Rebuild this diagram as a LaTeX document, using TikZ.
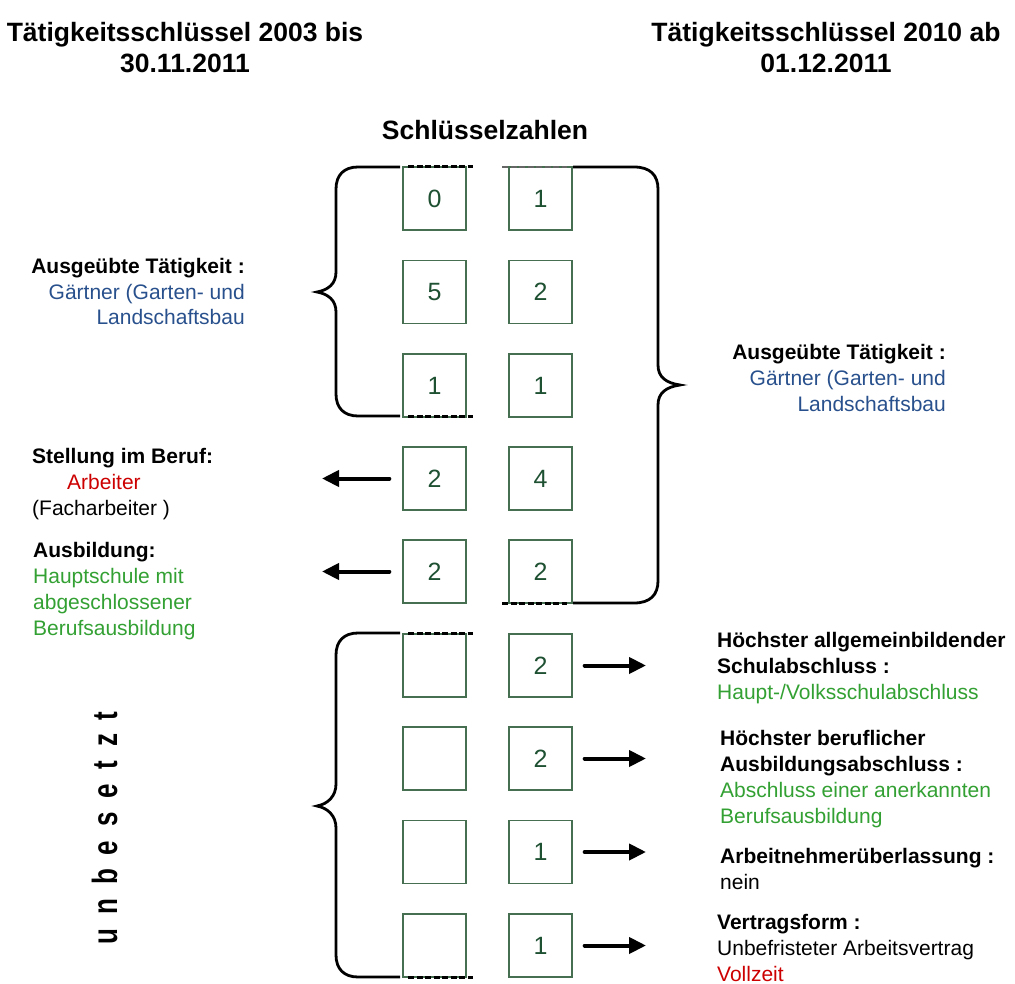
\documentclass[tikz,border=0pt]{standalone}
\usepackage{fontspec}
\setmainfont{Liberation Sans}
\usetikzlibrary{arrows.meta}
\definecolor{boxgreen}{RGB}{70,110,80}
\definecolor{numgreen}{RGB}{30,80,50}
\definecolor{txtblue}{RGB}{40,80,140}
\definecolor{txtgreen}{RGB}{50,160,50}
\definecolor{txtred}{RGB}{204,0,0}
\newcommand{\lsp}{\kern14pt}
\begin{document}
\begin{tikzpicture}[x=1pt,y=-1pt,
  keybox/.style={draw=boxgreen,line width=1.3pt,minimum size=63pt,inner sep=0pt,text=numgreen,font=\fontsize{25}{29}\selectfont},
  bracepath/.style={line width=2.8pt},
  dashbit/.style={line width=3pt,dash pattern=on 6pt off 2.5pt},
  arr/.style={line width=4pt,line cap=round,-{Triangle[length=17pt,width=16pt]}},
  lbl/.style={inner sep=0pt,font=\fontsize{21}{25.8}\selectfont},
  ttl/.style={inner sep=0pt,align=center,font=\fontsize{26.5}{31}\selectfont\bfseries}]
\useasboundingbox (0,0) rectangle (1015,984);

% titles (anchor base = baseline of last line)
\node[ttl,anchor=base] (tleft) at (185,73) {Tätigkeitsschlüssel 2003 bis\\30.11.2011};
\node[ttl,anchor=base] (tright) at (826,73) {Tätigkeitsschlüssel 2010 ab\\01.12.2011};
\node[ttl,anchor=base] (tkeys) at (485,139.5) {Schlüsselzahlen};

% boxes
\node[keybox] (L1) at (434.5,198.5) {0};
\node[keybox] (L2) at (434.5,292) {5};
\node[keybox] (L3) at (434.5,385.5) {1};
\node[keybox] (L4) at (434.5,478.5) {2};
\node[keybox] (L5) at (434.5,571.5) {2};
\node[keybox] (L6) at (434.5,665.5) {};
\node[keybox] (L7) at (434.5,758.5) {};
\node[keybox] (L8) at (434.5,852) {};
\node[keybox] (L9) at (434.5,945.5) {};
\node[keybox] (R1) at (540.5,198.5) {1};
\node[keybox] (R2) at (540.5,292) {2};
\node[keybox] (R3) at (540.5,385.5) {1};
\node[keybox] (R4) at (540.5,478.5) {4};
\node[keybox] (R5) at (540.5,571.5) {2};
\node[keybox] (R6) at (540.5,665.5) {2};
\node[keybox] (R7) at (540.5,758.5) {2};
\node[keybox] (R8) at (540.5,852) {1};
\node[keybox] (R9) at (540.5,945.5) {1};

% braces
\draw[bracepath] (400,167) -- (358,167) .. controls (344,167) and (336,175) .. (336,189)
  -- (336,272) .. controls (336,284) and (328,290) .. (317,292)
  .. controls (328,294) and (336,300) .. (336,312)
  -- (336,394) .. controls (336,408) and (344,416) .. (358,416) -- (400,416);
\draw[dashbit] (408,167) -- (473,167);
\draw[dashbit] (408,416) -- (473,416);

\draw[bracepath] (573,167) -- (634,167) .. controls (650,167) and (658,175) .. (658,189)
  -- (658,365) .. controls (658,377) and (666,383) .. (680,385)
  .. controls (666,387) and (658,393) .. (658,405)
  -- (658,581) .. controls (658,595) and (650,603) .. (634,603) -- (573,603);
\draw[dashbit,line width=1.8pt,black!60] (502,167) -- (567,167);
\draw[dashbit] (502,603) -- (567,603);

\draw[bracepath] (400,633) -- (358,633) .. controls (344,633) and (336,641) .. (336,655)
  -- (336,784) .. controls (336,796) and (328,804) .. (317,806)
  .. controls (328,808) and (336,816) .. (336,828)
  -- (336,955) .. controls (336,969) and (344,977) .. (358,977) -- (400,977);
\draw[dashbit] (408,633) -- (473,633);
\draw[dashbit] (408,977) -- (473,977);

% arrows
\coordinate (al4) at (322,478.5);
\coordinate (al5) at (322,571.5);
\coordinate (ar6) at (646,665.5);
\coordinate (ar7) at (646,758.5);
\coordinate (ar8) at (646,852);
\coordinate (ar9) at (646,945.5);
\draw[arr] ([xshift=-13pt]L4.west) -- (al4);
\draw[arr] ([xshift=-13pt]L5.west) -- (al5);
\draw[arr] ([xshift=12pt]R6.east) -- (ar6);
\draw[arr] ([xshift=12pt]R7.east) -- (ar7);
\draw[arr] ([xshift=12pt]R8.east) -- (ar8);
\draw[arr] ([xshift=12pt]R9.east) -- (ar9);

% left labels
\node[lbl,align=right,anchor=base east] (lt) at (245,325)
  {\textbf{Ausgeübte Tätigkeit :}\\\textcolor{txtblue}{Gärtner (Garten- und}\\\textcolor{txtblue}{Landschaftsbau}};
\node[lbl,align=left,anchor=base west] (ls) at (32,515)
  {\textbf{Stellung im Beruf:}\\\hspace*{35pt}\textcolor{txtred}{Arbeiter}\\(Facharbeiter )};
\node[lbl,align=left,anchor=base west] (la) at (33,635)
  {\textbf{Ausbildung:}\\\textcolor{txtgreen}{Hauptschule mit}\\\textcolor{txtgreen}{abgeschlossener}\\\textcolor{txtgreen}{Berufsausbildung}};

% right labels
\node[lbl,align=right,anchor=base east] (rt) at (946,411)
  {\textbf{Ausgeübte Tätigkeit :}\\\textcolor{txtblue}{Gärtner (Garten- und}\\\textcolor{txtblue}{Landschaftsbau}};
\node[lbl,align=left,anchor=base west] (r6) at (717,699)
  {\textbf{Höchster allgemeinbildender}\\\textbf{Schulabschluss :}\\\textcolor{txtgreen}{Haupt-/Volksschulabschluss}};
\node[lbl,align=left,anchor=base west] (r7) at (720,823)
  {\textbf{Höchster beruflicher}\\\textbf{Ausbildungsabschluss :}\\\textcolor{txtgreen}{Abschluss einer anerkannten}\\\textcolor{txtgreen}{Berufsausbildung}};
\node[lbl,align=left,anchor=base west] (r8) at (720,889)
  {\textbf{Arbeitnehmerüberlassung :}\\nein};
\node[lbl,align=left,anchor=base west] (r9) at (717,981)
  {\textbf{Vertragsform :}\\Unbefristeter Arbeitsvertrag\\\textcolor{txtred}{Vollzeit}};

% unbesetzt
\node[inner sep=0pt,rotate=90,yscale=1.35,anchor=base,font=\fontsize{26}{30}\selectfont\bfseries] (unb) at (117,828)
  {u\lsp n\lsp b\lsp e\lsp s\lsp e\lsp t\lsp z\lsp t};
\end{tikzpicture}
\end{document}
